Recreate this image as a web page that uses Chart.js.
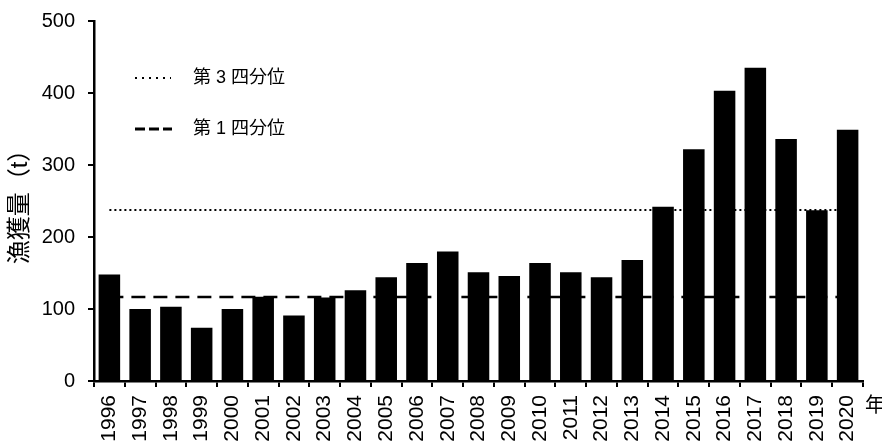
<!DOCTYPE html>
<html>
<head>
<meta charset="utf-8">
<script src="https://cdn.jsdelivr.net/npm/chart.js@4"></script>
<style>
  html, body { margin: 0; padding: 0; background: #fff; overflow: hidden; }
  #wrap { width: 882px; height: 446px; margin-top: -4px; }
</style>
</head>
<body>
<div id="wrap"><canvas id="grafico"></canvas></div>
<script>
const anios = ['1996','1997','1998','1999','2000','2001','2002','2003','2004','2005','2006','2007','2008','2009','2010','2011','2012','2013','2014','2015','2016','2017','2018','2019','2020'];
const capturas = [148, 100, 103, 74, 100, 117, 91, 116, 126, 144, 164, 180, 151, 146, 164, 151, 144, 168, 242, 322, 403, 435, 336, 237, 349];
const cuartil3 = 237.5;
const cuartil1 = 116.5;
const ticksY = [0, 100, 200, 300, 400, 500];

const fuente = "'Liberation Sans', 'Noto Sans CJK JP', sans-serif";

// leyenda dentro del area y la etiqueta del eje x
const extras = {
  id: 'extras',
  afterDraw(chart) {
    const ctx = chart.ctx;
    const area = chart.chartArea;
    ctx.save();
    ctx.strokeStyle = '#000';
    ctx.fillStyle = '#000';
    ctx.font = '18px ' + fuente;
    ctx.textBaseline = 'middle';

    ctx.lineWidth = 2;
    ctx.setLineDash([2, 5]);
    ctx.beginPath();
    ctx.moveTo(135, 82);
    ctx.lineTo(171, 82);
    ctx.stroke();
    ctx.fillText('第 3 四分位', 193, 82);

    ctx.lineWidth = 3;
    ctx.setLineDash([10, 4]);
    ctx.beginPath();
    ctx.moveTo(135, 133);
    ctx.lineTo(172, 133);
    ctx.stroke();
    ctx.setLineDash([]);
    ctx.fillText('第 1 四分位', 193, 133);

    ctx.font = '20px ' + fuente;
    ctx.textAlign = 'left';
    ctx.fillText('年', area.right + 2, 410);
    ctx.restore();
  }
};

new Chart(document.getElementById('grafico'), {
  type: 'bar',
  data: {
    labels: anios,
    datasets: [
      {
        type: 'bar',
        label: '漁獲量',
        data: capturas,
        backgroundColor: '#000',
        borderWidth: 0,
        barPercentage: 0.7,
        categoryPercentage: 1.0,
        order: 1
      },
      {
        type: 'line',
        label: '第3四分位',
        data: anios.map(() => cuartil3),
        borderColor: '#000',
        borderWidth: 2,
        borderDash: [2, 3],
        pointRadius: 0,
        fill: false,
        order: 2
      },
      {
        type: 'line',
        label: '第1四分位',
        data: anios.map(() => cuartil1),
        borderColor: '#000',
        borderWidth: 2.5,
        borderDash: [14, 8],
        pointRadius: 0,
        fill: false,
        order: 3
      }
    ]
  },
  options: {
    responsive: true,
    maintainAspectRatio: false,
    animation: false,
    layout: { padding: { top: 2, right: 19, left: 0, bottom: 0 } },
    plugins: {
      legend: { display: false },
      tooltip: { enabled: false }
    },
    scales: {
      x: {
        offset: true,
        border: { color: '#000', width: 2.5 },
        grid: { drawOnChartArea: false, color: '#000', lineWidth: 2, tickLength: 6, offset: true },
        ticks: {
          color: '#000',
          font: { size: 21, family: fuente },
          maxRotation: 90,
          minRotation: 90,
          padding: 8,
          autoSkip: false
        },
        afterFit(scale) { scale.height = 61; }
      },
      y: {
        min: 0,
        max: 500,
        afterBuildTicks(scale) { scale.ticks = ticksY.map(v => ({ value: v })); },
        border: { color: '#000', width: 2.5 },
        grid: { drawOnChartArea: false, color: '#000', lineWidth: 2, tickLength: 6 },
        ticks: {
          color: '#000',
          font: { size: 20, family: fuente },
          padding: 13
        },
        title: {
          display: true,
          text: '漁獲量（t）',
          color: '#000',
          font: { size: 24, family: fuente },
          padding: { top: 6, bottom: 0 }
        },
        afterFit(scale) { scale.width = 94; }
      }
    }
  },
  plugins: [extras]
});
</script>
</body>
</html>
